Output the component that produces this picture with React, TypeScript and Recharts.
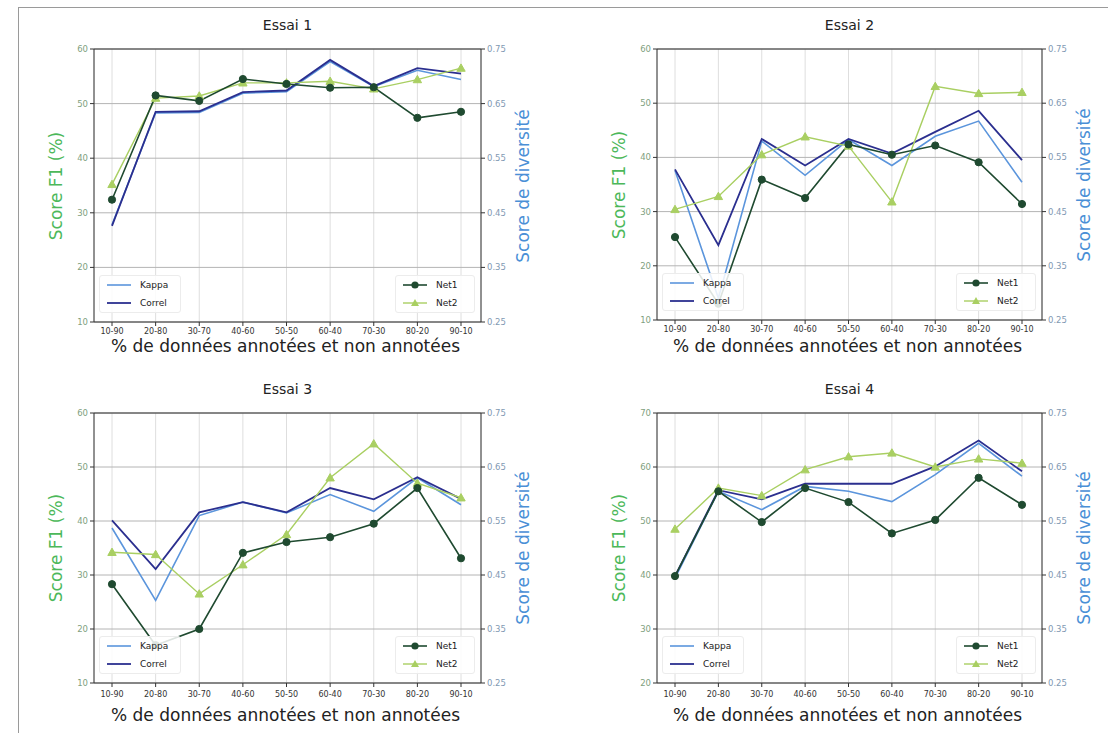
import React from 'react';
import { LineChart, Line, XAxis, YAxis, CartesianGrid, ReferenceLine } from 'recharts';

const categories = ['10-90', '20-80', '30-70', '40-60', '50-50', '60-40', '70-30', '80-20', '90-10'];
const rightTicks = [0.25, 0.35, 0.45, 0.55, 0.65, 0.75];
const leftTicksA = [10, 20, 30, 40, 50, 60];
const leftTicksB = [20, 30, 40, 50, 60, 70];

// Essai 1
const e1Net1 = [32.4, 51.5, 50.5, 54.5, 53.6, 52.9, 53.0, 47.4, 48.5];
const e1Net2 = [35.2, 51.0, 51.4, 53.8, 53.8, 54.1, 52.7, 54.4, 56.5];
const e1Kappa = [0.428, 0.633, 0.634, 0.669, 0.672, 0.727, 0.681, 0.711, 0.694];
const e1Correl = [0.426, 0.635, 0.636, 0.671, 0.674, 0.730, 0.682, 0.715, 0.705];
// Essai 2
const e2Net1 = [25.3, 13.0, 35.9, 32.5, 42.4, 40.5, 42.2, 39.1, 31.4];
const e2Net2 = [30.4, 32.8, 40.5, 43.8, 42.1, 31.8, 53.1, 51.8, 52.0];
const e2Kappa = [0.526, 0.29, 0.580, 0.517, 0.583, 0.535, 0.589, 0.617, 0.504];
const e2Correl = [0.528, 0.388, 0.584, 0.535, 0.584, 0.557, 0.597, 0.636, 0.545];
// Essai 3
const e3Net1 = [28.3, 17.0, 20.0, 34.1, 36.1, 37.0, 39.5, 46.1, 33.1];
const e3Net2 = [34.2, 33.8, 26.5, 31.9, 37.5, 48.0, 54.3, 47.0, 44.3];
const e3Kappa = [0.537, 0.403, 0.560, 0.585, 0.565, 0.599, 0.568, 0.630, 0.580];
const e3Correl = [0.551, 0.461, 0.566, 0.585, 0.566, 0.611, 0.590, 0.631, 0.591];
// Essai 4
const e4Net1 = [39.8, 55.5, 49.8, 56.1, 53.5, 47.7, 50.2, 58.0, 53.0];
const e4Net2 = [48.5, 56.1, 54.7, 59.5, 61.9, 62.6, 60.0, 61.5, 60.7];
const e4Kappa = [0.444, 0.605, 0.571, 0.614, 0.605, 0.586, 0.636, 0.694, 0.633];
const e4Correl = [0.448, 0.607, 0.590, 0.619, 0.619, 0.619, 0.651, 0.699, 0.642];

const C_NET1 = '#1f4a30';
const C_NET2 = '#a9cf62';
const C_KAPPA = '#5b95dc';
const C_CORREL = '#2b2f8f';
const C_LEFT_LABEL = '#4cb85a';
const C_RIGHT_LABEL = '#4a8fd6';
const FONT = "'DejaVu Sans', sans-serif";

const TriangleDot = (props: any) => {
  const { cx, cy } = props;
  if (cx == null || cy == null) return null;
  const s = 4.2;
  return (
    <path
      d={`M${cx},${cy - s} L${cx + s},${cy + s * 0.75} L${cx - s},${cy + s * 0.75} Z`}
      fill={C_NET2}
      stroke={C_NET2}
    />
  );
};

type PanelProps = {
  title: string;
  net1: number[];
  net2: number[];
  kappa: number[];
  correl: number[];
  leftTicks: number[];
  plotLeft: number;
  plotTop: number;
  plotW: number;
  plotH: number;
  tickMargin: number;
  labelOffset: number;
};

const Panel = ({ title, net1, net2, kappa, correl, leftTicks, plotLeft, plotTop, plotW, plotH, tickMargin, labelOffset }: PanelProps) => {
  const data = categories.map((c, i) => ({ cat: c, net1: net1[i], net2: net2[i], kappa: kappa[i], correl: correl[i] }));
  const lo = leftTicks[0];
  const hi = leftTicks[leftTicks.length - 1];
  const chartLeft = plotLeft - 60;
  const chartTop = plotTop - 40;
  const plotRight = plotLeft + plotW;
  const plotBottom = plotTop + plotH;
  const legendBox: React.CSSProperties = {
    position: 'absolute',
    top: plotBottom - 47,
    height: 38,
    background: 'rgba(255,255,255,0.85)',
    border: '1px solid #ececec',
    borderRadius: 3,
    boxSizing: 'border-box',
  };
  const row = (y: number): React.CSSProperties => ({
    position: 'absolute',
    top: y,
    height: 12,
    display: 'flex',
    alignItems: 'center',
    fontSize: 9,
    color: '#222',
    whiteSpace: 'nowrap',
  });
  return (
    <>
      <div
        style={{
          position: 'absolute',
          left: plotLeft,
          width: plotW,
          top: plotTop - 32,
          textAlign: 'center',
          fontSize: 14,
          color: '#222',
        }}
      >
        {title}
      </div>
      <div style={{ position: 'absolute', left: chartLeft, top: chartTop }}>
        <LineChart
          width={plotW + 120}
          height={plotH + 80}
          data={data}
          margin={{ top: 40, right: 0, bottom: 0, left: 0 }}
        >
          <CartesianGrid horizontal={false} stroke="#dedede" />
          <CartesianGrid vertical={false} stroke="#b4b4b4" />
          <XAxis
            dataKey="cat"
            interval={0}
            height={40}
            padding={{ left: 18, right: 20 }}
            tick={{ fontSize: 8, fill: '#333', fontFamily: FONT }}
            tickSize={4}
            tickMargin={tickMargin}
            axisLine={{ stroke: '#333' }}
            tickLine={{ stroke: '#333' }}
          />
          <YAxis
            domain={[lo, hi]}
            ticks={leftTicks}
            interval={0}
            allowDataOverflow
            width={60}
            tick={{ fontSize: 8.5, fill: '#7f9f80', fontFamily: FONT }}
            tickSize={4}
            axisLine={{ stroke: '#333' }}
            tickLine={{ stroke: '#333' }}
          />
          <YAxis
            yAxisId="r"
            orientation="right"
            domain={[0.25, 0.75]}
            ticks={rightTicks}
            interval={0}
            allowDataOverflow
            width={60}
            tickFormatter={(v: number) => v.toFixed(2)}
            tick={{ fontSize: 8.5, fill: '#8199b3', fontFamily: FONT }}
            tickSize={4}
            axisLine={{ stroke: '#333' }}
            tickLine={{ stroke: '#333' }}
          />
          <ReferenceLine y={hi} stroke="#333" />
          <Line
            yAxisId="r"
            dataKey="kappa"
            stroke={C_KAPPA}
            strokeWidth={1.6}
            dot={false}
            isAnimationActive={false}
          />
          <Line
            yAxisId="r"
            dataKey="correl"
            stroke={C_CORREL}
            strokeWidth={1.8}
            dot={false}
            isAnimationActive={false}
          />
          <Line
            dataKey="net2"
            stroke={C_NET2}
            strokeWidth={1.4}
            dot={<TriangleDot />}
            isAnimationActive={false}
          />
          <Line
            dataKey="net1"
            stroke={C_NET1}
            strokeWidth={1.6}
            dot={{ r: 3.6, fill: C_NET1, stroke: C_NET1, strokeWidth: 1 }}
            isAnimationActive={false}
          />
        </LineChart>
      </div>
      {/* left legend */}
      <div style={{ ...legendBox, left: plotLeft + 5, width: 82 }}>
        <div style={row(3)}>
          <svg width={30} height={12} style={{ marginLeft: 5 }}>
            <line x1={2} y1={6} x2={26} y2={6} stroke={C_KAPPA} strokeWidth={1.6} />
          </svg>
          <span style={{ marginLeft: 5 }}>Kappa</span>
        </div>
        <div style={row(21)}>
          <svg width={30} height={12} style={{ marginLeft: 5 }}>
            <line x1={2} y1={6} x2={26} y2={6} stroke={C_CORREL} strokeWidth={1.8} />
          </svg>
          <span style={{ marginLeft: 5 }}>Correl</span>
        </div>
      </div>
      {/* right legend */}
      <div style={{ ...legendBox, left: plotRight - 86, width: 80 }}>
        <div style={row(3)}>
          <svg width={30} height={12} style={{ marginLeft: 5 }}>
            <line x1={2} y1={6} x2={26} y2={6} stroke={C_NET1} strokeWidth={1.6} />
            <circle cx={14} cy={6} r={3.6} fill={C_NET1} />
          </svg>
          <span style={{ marginLeft: 5 }}>Net1</span>
        </div>
        <div style={row(21)}>
          <svg width={30} height={12} style={{ marginLeft: 5 }}>
            <line x1={2} y1={6} x2={26} y2={6} stroke={C_NET2} strokeWidth={1.4} />
            <path d="M14,2 L18,9 L10,9 Z" fill={C_NET2} />
          </svg>
          <span style={{ marginLeft: 5 }}>Net2</span>
        </div>
      </div>
      {/* x axis label */}
      <div
        style={{
          position: 'absolute',
          left: plotLeft - 32,
          width: plotW + 60,
          top: plotBottom + labelOffset - 11,
          textAlign: 'center',
          fontSize: 17,
          color: '#222',
          whiteSpace: 'nowrap',
        }}
      >
        % de données annotées et non annotées
      </div>
      {/* left y label */}
      <div
        style={{
          position: 'absolute',
          left: plotLeft - 38 - 100,
          top: plotTop + plotH / 2 - 10,
          width: 200,
          height: 20,
          lineHeight: '20px',
          textAlign: 'center',
          fontSize: 17,
          color: C_LEFT_LABEL,
          transform: 'rotate(-90deg)',
          whiteSpace: 'nowrap',
        }}
      >
        Score F1 (%)
      </div>
      {/* right y label */}
      <div
        style={{
          position: 'absolute',
          left: plotRight + 42 - 100,
          top: plotTop + plotH / 2 - 10,
          width: 200,
          height: 20,
          lineHeight: '20px',
          textAlign: 'center',
          fontSize: 17,
          color: C_RIGHT_LABEL,
          transform: 'rotate(-90deg)',
          whiteSpace: 'nowrap',
        }}
      >
        Score de diversité
      </div>
    </>
  );
};

export default function App() {
  return (
    <div
      style={{
        position: 'absolute',
        left: 0,
        top: 0,
        width: 1108,
        height: 733,
        background: '#fff',
        fontFamily: FONT,
        overflow: 'hidden',
      }}
    >
      <div
        style={{
          position: 'absolute',
          left: 18,
          top: 7,
          width: 1100,
          height: 740,
          borderTop: '1px solid #9a9a9a',
          borderLeft: '1px solid #9a9a9a',
        }}
      />
      <Panel title="Essai 1" net1={e1Net1} net2={e1Net2} kappa={e1Kappa} correl={e1Correl} leftTicks={leftTicksA}
        plotLeft={94} plotTop={49} plotW={387} plotH={273} tickMargin={2} labelOffset={25} />
      <Panel title="Essai 2" net1={e2Net1} net2={e2Net2} kappa={e2Kappa} correl={e2Correl} leftTicks={leftTicksA}
        plotLeft={657} plotTop={49} plotW={385} plotH={271} tickMargin={2} labelOffset={27} />
      <Panel title="Essai 3" net1={e3Net1} net2={e3Net2} kappa={e3Kappa} correl={e3Correl} leftTicks={leftTicksA}
        plotLeft={94} plotTop={413} plotW={387} plotH={270} tickMargin={4} labelOffset={33} />
      <Panel title="Essai 4" net1={e4Net1} net2={e4Net2} kappa={e4Kappa} correl={e4Correl} leftTicks={leftTicksB}
        plotLeft={657} plotTop={413} plotW={385} plotH={270} tickMargin={4} labelOffset={33} />
    </div>
  );
}
